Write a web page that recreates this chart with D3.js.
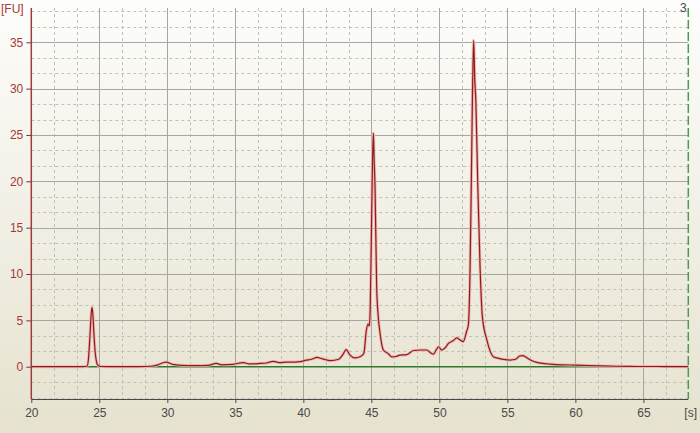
<!DOCTYPE html>
<html>
<head>
<meta charset="utf-8">
<script src="https://cdn.jsdelivr.net/npm/d3@7"></script>
<style>
  html, body { margin: 0; padding: 0; background: #ece9d8; }
  svg { display: block; }
  text { font-family: "Liberation Sans", Arial, sans-serif; font-size: 12px; }
</style>
</head>
<body>
<svg id="chart" width="700" height="433"></svg>
<script>
// electropherogram trace
var times = [20.0, 21.0, 22.0, 23.0, 23.8, 24.1, 24.2, 24.3, 24.4, 24.46, 24.52, 24.6, 24.7, 24.8, 24.9, 25.1,
    26.0, 27.0, 28.0, 28.8, 29.3, 29.9, 30.4, 31.0, 32.0, 33.0, 33.6, 34.0, 34.8, 35.6, 36.0, 36.8, 37.3,
    37.8, 38.2, 38.8, 39.4, 39.8, 40.2, 40.6, 41.0, 41.4, 42.0, 42.6, 42.9, 43.15, 43.4, 43.8, 44.2, 44.45,
    44.62, 44.75, 44.85, 44.92, 45.0, 45.08, 45.15, 45.2, 45.27, 45.39, 45.5, 45.64, 45.88, 46.25, 46.5,
    46.8, 47.1, 47.6, 48.1, 48.6, 49.07, 49.35, 49.56, 49.8, 49.93, 50.18, 50.4, 50.66, 51.0, 51.28, 51.5,
    51.76, 52.0, 52.13, 52.25, 52.35, 52.43, 52.52, 52.6, 52.68, 52.82, 52.99, 53.16, 53.49, 53.97, 54.22,
    54.7, 55.2, 55.6, 55.9, 56.1, 56.4, 56.7, 57.16, 57.6, 58.1, 59.0, 60.0, 61.0, 62.0, 63.0, 64.0, 65.0,
    66.0, 67.0, 68.3];
var fu = [0.0, 0.0, 0.0, 0.0, 0.0, 0.05, 0.8, 3.0, 5.6, 6.4, 5.8, 3.6, 1.5, 0.5, 0.15, 0.02,
    0.0, 0.0, 0.0, 0.05, 0.2, 0.5, 0.25, 0.15, 0.12, 0.15, 0.35, 0.2, 0.25, 0.45, 0.3, 0.35, 0.4,
    0.58, 0.45, 0.5, 0.5, 0.55, 0.7, 0.8, 1.0, 0.85, 0.65, 0.8, 1.3, 1.85, 1.3, 0.95, 1.1, 1.45,
    3.8, 4.6, 4.4, 6.5, 14.0, 22.0, 25.2, 22.5, 19.4, 8.6, 5.5, 3.6, 1.8, 1.4, 1.05,
    1.1, 1.25, 1.3, 1.75, 1.8, 1.8, 1.5, 1.35, 1.9, 2.15, 1.8, 2.0, 2.5, 2.8, 3.1, 2.9,
    2.7, 3.8, 4.5, 10.0, 20.0, 29.0, 35.2, 31.0, 28.8, 19.8, 10.8, 5.4, 2.9, 1.08, 0.95,
    0.8, 0.72, 0.8, 1.15, 1.2, 1.0, 0.72, 0.47, 0.35, 0.28, 0.2, 0.17, 0.12, 0.08, 0.05, 0.03, 0.02,
    0.02, 0.01, 0.0];

var xTicks = [20, 25, 30, 35, 40, 45, 50, 55, 60, 65];
var yTicks = [0, 5, 10, 15, 20, 25, 30, 35];

var svg = d3.select("#chart");
var W = 700, H = 433;
var mLeft = 31.3, mRight = 688.3, mTop = 8, mBottom = 399;

var x = d3.scaleLinear().domain([20, 68.3]).range([mLeft, mRight]);
var y = d3.scaleLinear().domain([-3.485, 38.7]).range([mBottom, mTop]);

// background gradient, white at top to beige at bottom
var defs = svg.append("defs");
var grad = defs.append("linearGradient")
    .attr("id", "bg")
    .attr("x1", 0).attr("y1", 0).attr("x2", 0).attr("y2", 1);
grad.append("stop").attr("offset", "0%").attr("stop-color", "#fdfdfb");
grad.append("stop").attr("offset", "100%").attr("stop-color", "#e6e2cf");

svg.append("rect")
    .attr("width", W).attr("height", H)
    .attr("fill", "url(#bg)");

// minor grid at thirds of the major step
var step = 5 / 3;
var xMinor = d3.range(Math.ceil(20 / step), Math.floor(68.3 / step) + 1)
    .map(function(i) { return i * step; })
    .filter(function(v) { return Math.abs(v / 5 - Math.round(v / 5)) > 0.01 && v > 20; });
var yMinor = d3.range(Math.ceil(-3.485 / step), Math.floor(38.7 / step) + 1)
    .map(function(i) { return i * step; })
    .filter(function(v) { return Math.abs(v / 5 - Math.round(v / 5)) > 0.01; });

var grid = svg.append("g").attr("class", "grid");

grid.selectAll(".xminor").data(xMinor).enter().append("line")
    .attr("x1", function(d) { return Math.round(x(d)) + 0.5; })
    .attr("x2", function(d) { return Math.round(x(d)) + 0.5; })
    .attr("y1", mTop).attr("y2", mBottom)
    .attr("stroke", "#c0c0bb")
    .attr("stroke-dasharray", "3,3");

grid.selectAll(".yminor").data(yMinor).enter().append("line")
    .attr("x1", mLeft).attr("x2", mRight)
    .attr("y1", function(d) { return Math.round(y(d)) + 0.5; })
    .attr("y2", function(d) { return Math.round(y(d)) + 0.5; })
    .attr("stroke", "#c0c0bb")
    .attr("stroke-dasharray", "3,3");

grid.selectAll(".xmajor").data(xTicks.slice(1)).enter().append("line")
    .attr("x1", function(d) { return Math.round(x(d)) + 0.5; })
    .attr("x2", function(d) { return Math.round(x(d)) + 0.5; })
    .attr("y1", mTop).attr("y2", mBottom)
    .attr("stroke", "#a6a6a4");

grid.selectAll(".ymajor").data(yTicks.slice(1)).enter().append("line")
    .attr("x1", mLeft).attr("x2", mRight)
    .attr("y1", function(d) { return Math.round(y(d)) + 0.5; })
    .attr("y2", function(d) { return Math.round(y(d)) + 0.5; })
    .attr("stroke", "#a6a6a4");

// baseline
svg.append("line")
    .attr("x1", mLeft).attr("x2", mRight)
    .attr("y1", y(0)).attr("y2", y(0))
    .attr("stroke", "#2c7a2c")
    .attr("stroke-width", 1.6);

// trace
var pts = times.map(function(t, i) { return [t, fu[i]]; });
var line = d3.line()
    .x(function(d) { return x(d[0]); })
    .y(function(d) { return y(d[1]); })
    .curve(d3.curveMonotoneX);

svg.append("path")
    .datum(pts)
    .attr("d", line)
    .attr("fill", "none")
    .attr("stroke", "#f0b4b0")
    .attr("stroke-width", 3)
    .attr("stroke-linejoin", "round");

svg.append("path")
    .datum(pts)
    .attr("d", line)
    .attr("fill", "none")
    .attr("stroke", "#8a1e1e")
    .attr("stroke-width", 1.2)
    .attr("stroke-linejoin", "round");

// axes
var xAxis = d3.axisBottom(x).tickValues(xTicks).tickSize(4).tickPadding(5);
var gx = svg.append("g")
    .attr("transform", "translate(0," + mBottom + ")")
    .call(xAxis);
gx.select(".domain").attr("stroke", "#4a4a4a").attr("d", "M" + mLeft + ",0.5H" + mRight);
gx.selectAll(".tick line").attr("stroke", "#4a4a4a");
gx.selectAll(".tick text")
    .attr("fill", "#4a4a4a")
    .style("font-family", "Liberation Sans, Arial, sans-serif")
    .style("font-size", "12px");

var yAxis = d3.axisLeft(y).tickValues(yTicks).tickSize(5).tickPadding(3);
var gy = svg.append("g")
    .attr("transform", "translate(" + mLeft + ",0)")
    .call(yAxis);
gy.select(".domain").attr("stroke", "#a33a3a").attr("stroke-width", 1.5)
    .attr("d", "M0," + mTop + "V" + mBottom);
gy.selectAll(".tick line").attr("stroke", "#6a3a3a");
gy.selectAll(".tick text")
    .attr("fill", "#a33a3a")
    .style("font-family", "Liberation Sans, Arial, sans-serif")
    .style("font-size", "12px");

// right green dashed axis
svg.append("line")
    .attr("x1", mRight).attr("x2", mRight)
    .attr("y1", mTop).attr("y2", mBottom)
    .attr("stroke", "#4f9a4f")
    .attr("stroke-width", 1.5)
    .attr("stroke-dasharray", "9,3");

// labels
svg.append("text")
    .attr("x", 1).attr("y", 13)
    .attr("fill", "#a33a3a")
    .text("[FU]");

svg.append("text")
    .attr("x", 697).attr("y", 417)
    .attr("text-anchor", "end")
    .attr("fill", "#4a4a4a")
    .text("[s]");

svg.append("text")
    .attr("x", 680).attr("y", 12)
    .attr("fill", "#4a4a4a")
    .text("3");
</script>
</body>
</html>
